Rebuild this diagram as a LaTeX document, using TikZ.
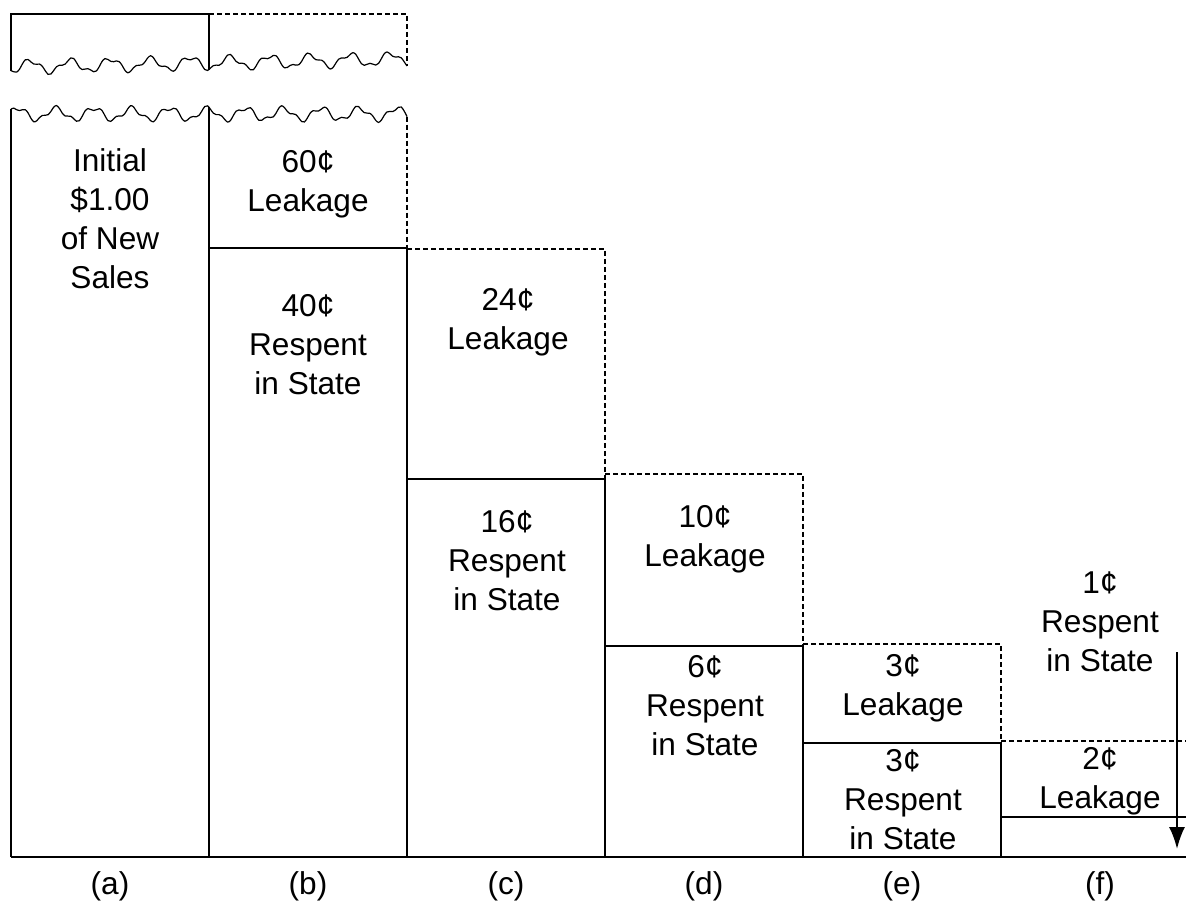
\documentclass[tikz,border=0pt]{standalone}
\usepackage{fontspec}
\setmainfont{Liberation Sans}
\usetikzlibrary{arrows.meta}

\begin{document}
\begin{tikzpicture}[
    x=0.5pt, y=-0.5pt,
    declare function={wa(\x)=67-0.02*(\x-11)+6*sin(9*\x)+2.5*sin(23*\x+40);
                      wb(\x)=114+6*sin(9.5*\x+100)+2.5*sin(24*\x);},
    spent/.style={draw, line width=0.6pt},
    leak/.style={draw, line width=0.6pt, dash pattern=on 2.5pt off 1.5pt},
    wave/.style={line width=0.6pt, smooth, samples=140},
    lbl/.style={align=center, font=\fontsize{15.8}{19.5}\selectfont, inner sep=0pt},
    arrow/.style={-{Latex[length=11pt,width=8pt]}, line width=1pt}
]
\useasboundingbox (0,0) rectangle (1188,908);

% cut-off top of the first two bars
\draw[spent] (11,{wa(11)}) -- (11,14) -- (209,14) -- (209,{wa(209)});
\draw[leak] (209,14) -- (407,14) -- (407,{wa(407)});
\draw[wave] plot[domain=11:407] (\x,{wa(\x)});
\draw[wave] plot[domain=11:407] (\x,{wb(\x)});

% leakage boxes (dashed)
\draw[leak] (407,{wb(407)}) -- (407,248);
\draw[leak] (407,249) -- (605,249) -- (605,479);
\draw[leak] (605,474) -- (803,474) -- (803,646);
\draw[leak] (803,644) -- (1001,644) -- (1001,743);
\draw[leak] (1001,741) -- (1186,741);

% respent boxes (solid)
\draw[spent] (11,{wb(11)}) -- (11,857);
\draw[spent] (209,{wb(209)}) -- (209,857);
\draw[spent] (209,248) rectangle (407,857);
\draw[spent] (407,479) rectangle (605,857);
\draw[spent] (605,646) rectangle (803,857);
\draw[spent] (803,743) rectangle (1001,857);
\draw[spent] (1001,817) -- (1186,817);
\draw[spent] (11,857) -- (1186,857);

% texts
\node[lbl] (init) at (110,219) {Initial\\\$1.00\\of New\\Sales};
\node[lbl] (bleak) at (308,184) {60¢\\Leakage};
\node[lbl] (bresp) at (308,345) {40¢\\Respent\\in State};
\node[lbl] (cleak) at (508,322) {24¢\\Leakage};
\node[lbl] (cresp) at (507,561) {16¢\\Respent\\in State};
\node[lbl] (dleak) at (705,539) {10¢\\Leakage};
\node[lbl] (dresp) at (705,706) {6¢\\Respent\\in State};
\node[lbl] (eleak) at (903,688) {3¢\\Leakage};
\node[lbl] (eresp) at (903,800) {3¢\\Respent\\in State};
\node[lbl] (fresp) at (1100,622) {1¢\\Respent\\in State};
\node[lbl] (fleak) at (1100,781) {2¢\\Leakage};

% column letters
\foreach \lt [count=\i from 0] in {a,b,c,d,e,f}
  \node[lbl] (col\lt) at ({110+198*\i},886) {(\lt)};

% pointer to the last respent bit
\coordinate (ftop) at (1177,652);
\coordinate (fbot) at (1177,849);
\draw[arrow] (ftop) -- (fbot);
\end{tikzpicture}
\end{document}
